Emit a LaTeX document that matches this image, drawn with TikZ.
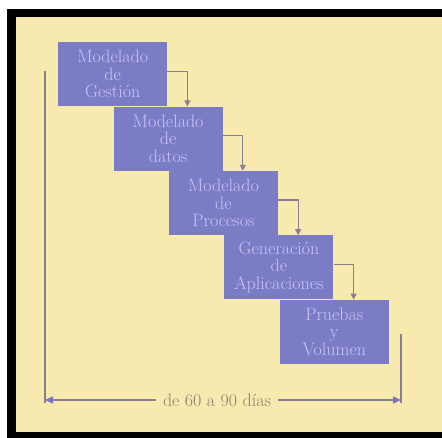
\documentclass[tikz,border=0pt]{standalone}
\usepackage{fontspec}
\usepackage{tikz}
\usetikzlibrary{arrows.meta, positioning, calc}
\definecolor{fondo}{HTML}{F8EAAE}
\definecolor{caja}{HTML}{7B7BC6}
\definecolor{letra}{HTML}{C6C6F2}
\definecolor{linea}{HTML}{8A7E92}
\definecolor{punta}{HTML}{7A70C2}
\definecolor{leyenda}{HTML}{8A7E74}

\begin{document}
\begin{tikzpicture}[
		x=1pt, y=-1pt,
		>={Triangle[width=6pt,length=6pt]},
		node distance=0pt and -54pt,
		etapa/.style={fill=caja, minimum width=109pt, minimum height=64pt, inner sep=0pt,
			align=center, text=letra, font=\fontsize{18}{17.5}\selectfont},
		flecha/.style={->, draw=linea, line width=1.3pt},
		cota/.style={draw=linea, line width=1.3pt},
		plazo/.style={-{Triangle[width=7pt,length=8pt,color=punta]}, draw=linea, line width=1.3pt},
	]
		% marco
		\useasboundingbox (0,0) rectangle (442,438);
		\fill[black] (7,9) rectangle (442,438);
		\fill[fondo] (16,17) rectangle (442,432);

		% etapas
		\node[etapa, anchor=north west] (gestion) at (58,42) {Modelado\\de\\Gestión};
		\node[etapa, below right=of gestion] (datos) {Modelado\\de\\datos};
		\node[etapa, below right=of datos] (procesos) {Modelado\\de\\Procesos};
		\node[etapa, below right=of procesos] (aplic) {Generación\\de\\Aplicaciones};
		\node[etapa, below right=of aplic] (pruebas) {Pruebas\\y\\Volumen};

		% flechas entre etapas
		\foreach \a/\b in {gestion/datos, datos/procesos, procesos/aplic, aplic/pruebas}
			\draw[flecha] ([yshift=3pt]\a.east) -- ++(20,0) coordinate (t) -- (t |- \b.north);

		% duracion
		\node[text=leyenda, font=\fontsize{18}{18}\selectfont, inner sep=7pt] (texto) at (217,400) {de 60 a 90 días};
		\coordinate (izq) at (45,400);
		\coordinate (der) at (401,400);
		\coordinate (izqarriba) at (45,71);
		\coordinate (izqabajo) at (45,403);
		\coordinate (derarriba) at (401,334);
		\coordinate (derabajo) at (401,403);
		\draw[cota] (izqarriba) -- (izqabajo);
		\draw[cota] (derarriba) -- (derabajo);
		\draw[plazo] (texto.west) -- (izq);
		\draw[plazo] (texto.east) -- (der);
	\end{tikzpicture}
\end{document}
